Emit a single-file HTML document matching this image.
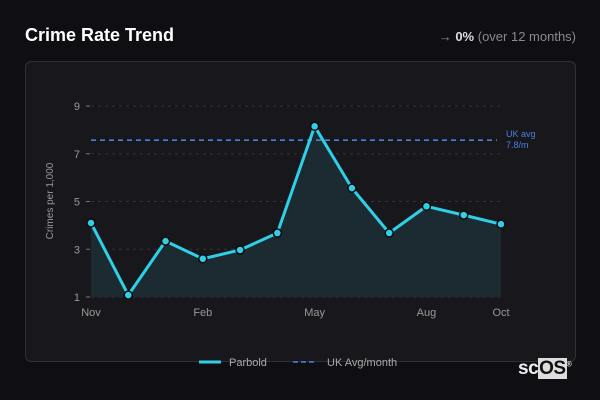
<!DOCTYPE html>
<html><head><meta charset="utf-8"><style>
body{margin:0;width:600px;height:400px;background:#0e0e13;font-family:"Liberation Sans",sans-serif;overflow:hidden;position:relative}
.title{position:absolute;left:25px;top:25px;color:#fff;font-weight:bold;font-size:18px}
.chg{position:absolute;right:24px;top:29px;color:#8a8a90;font-size:13px}
.chg b{color:#ddd}
.panel{position:absolute;left:25px;top:61px;width:549px;height:299px;background:#18181c;border:1px solid #303036;border-radius:6px}
svg{position:absolute;left:0;top:0}
.logo{position:absolute;left:518px;top:358px;font-size:19px;font-weight:bold;color:#eee;letter-spacing:-0.5px}
.logo span{background:#ddd;color:#111;padding:0 1px}
</style></head><body>
<div class="title">Crime Rate Trend</div>
<div class="chg">→ <b>0%</b> (over 12 months)</div>
<div class="panel"></div>
<svg id="c" width="600" height="400"></svg>
<div class="logo">sc<span>OS</span><sup style="font-size:7px">®</sup></div>
<script>
const months=["Nov","Dec","Jan","Feb","Mar","Apr","May","Jun","Jul","Aug","Sep","Oct"];
const xLabels=["Nov","Feb","May","Aug","Oct"];
const values=[4.1,1.08,3.34,2.6,2.97,3.68,8.15,5.56,3.68,4.8,4.43,4.05];
const yTicks=[1,3,5,7,9];
const ukAvg=7.57;
const ns="http://www.w3.org/2000/svg",s=document.getElementById('c');
const X=i=>91+i*(410/11), Y=v=>297-(v-1)*(191/8);
function el(t,a,txt){const e=document.createElementNS(ns,t);for(const k in a)e.setAttribute(k,a[k]);if(txt!=null)e.textContent=txt;s.appendChild(e);return e;}
yTicks.forEach(v=>{
 const g=el('line',{x1:91,x2:501,y1:Y(v),y2:Y(v),stroke:'#333338','stroke-dasharray':'3 4'});
 
 const tk=el('line',{x1:86,x2:90,y1:Y(v),y2:Y(v),stroke:'#777'});
 
 const t=el('text',{x:80,y:Y(v)+4,'text-anchor':'end',fill:'#999','font-size':11},v);
 
});
xLabels.forEach(m=>{const i=months.indexOf(m);
 const t=el('text',{x:X(i),y:316,'text-anchor':'middle',fill:'#999','font-size':11},m);
 });
const yt=el('text',{transform:'translate(53,201) rotate(-90)','text-anchor':'middle',fill:'#999','font-size':10},'Crimes per 1,000');

let pts=values.map((v,i)=>X(i)+','+Y(v)).join(' ');
const area=el('polygon',{points:X(0)+','+Y(1)+' '+pts+' '+X(values.length-1)+','+Y(1),fill:'#1b2b31'});

const av=el('line',{x1:91,x2:497,y1:Y(ukAvg),y2:Y(ukAvg),stroke:'#4a7fe0','stroke-width':1.6,'stroke-dasharray':'5 4'});

const a1=el('text',{x:506,y:Y(ukAvg)-3,fill:'#4a7fe0','font-size':9},'UK avg');

const a2=el('text',{x:506,y:Y(ukAvg)+8,fill:'#4a7fe0','font-size':9},'7.8/m');

const ln=el('polyline',{points:pts,fill:'none',stroke:'#2fd0e6','stroke-width':3,'stroke-linejoin':'round'});

values.forEach((v,i)=>{const c=el('circle',{cx:X(i),cy:Y(v),r:4,fill:'#2fd0e6',stroke:'#0b0b0f','stroke-width':1.5});
 });
const l1=el('line',{x1:199,x2:221,y1:362,y2:362,stroke:'#2fd0e6','stroke-width':3});

const lt1=el('text',{x:229,y:366,fill:'#aaa','font-size':11},'Parbold');

const l2=el('line',{x1:293,x2:316,y1:362,y2:362,stroke:'#4a7fe0','stroke-width':1.6,'stroke-dasharray':'5 3'});

const lt2=el('text',{x:327,y:366,fill:'#aaa','font-size':11},'UK Avg/month');

</script>
</body></html>
